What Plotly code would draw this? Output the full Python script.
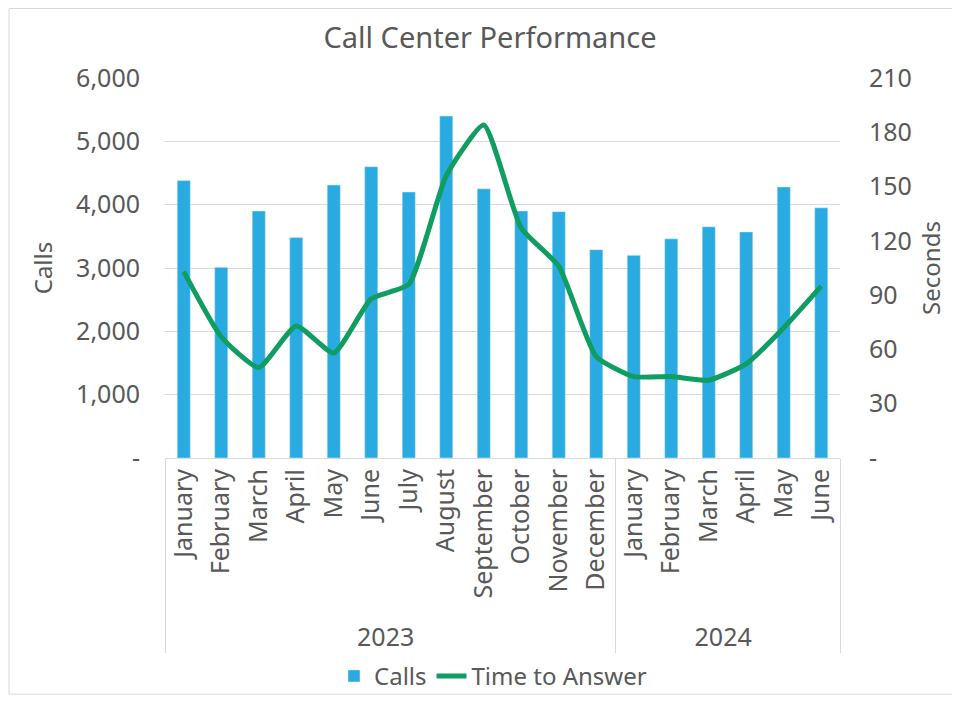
import plotly.graph_objects as go

years = ["2023"] * 12 + ["2024"] * 6
months = ["January", "February", "March", "April", "May", "June", "July",
          "August", "September", "October", "November", "December",
          "January", "February", "March", "April", "May", "June"]
calls = [4380, 3010, 3900, 3480, 4310, 4600, 4200, 5400, 4250, 3900, 3890, 3290,
         3200, 3460, 3650, 3570, 4280, 3950]
time_to_answer = [103, 67, 50, 73, 58, 88, 96, 156, 184, 127, 106, 56,
                  45, 45, 43, 52, 72, 95]

calls_ticks = [0, 1000, 2000, 3000, 4000, 5000, 6000]
calls_labels = ["-", "1,000", "2,000", "3,000", "4,000", "5,000", "6,000"]
sec_ticks = [0, 30, 60, 90, 120, 150, 180, 210]
sec_labels = ["-", "30", "60", "90", "120", "150", "180", "210"]

grey = "#595959"
font_family = "Noto Sans, sans-serif"

fig = go.Figure()

fig.add_trace(go.Bar(
    x=[years, months], y=calls,
    name="Calls",
    marker=dict(color="#29abe2"),
    width=0.35,
))

fig.add_trace(go.Scatter(
    x=[years, months], y=time_to_answer,
    mode="lines", name="Time to Answer",
    line=dict(color="#0f9d61", width=5, shape="spline", smoothing=0.5),
    yaxis="y2",
))

# page body adds an 8px offset, so margins are shifted to keep the plot in place
fig.update_layout(
    width=960, height=702,
    paper_bgcolor="white", plot_bgcolor="white",
    font=dict(family=font_family, color=grey, size=23),
    title=dict(text="Call Center Performance", x=(490 - 8) / 960, xanchor="center",
               y=1 - (38 - 8) / 702, yanchor="middle", font=dict(size=29, color=grey)),
    margin=dict(l=157, r=128, t=70, b=249),
    showlegend=True,
    legend=dict(orientation="h", x=(493 - 165) / 675, xanchor="center",
                y=(461 - 681) / 383, yanchor="middle",
                bgcolor="rgba(0,0,0,0)",
                font=dict(size=24, color=grey)),
    xaxis=dict(
        type="multicategory",
        tickangle=-90,
        showgrid=False,
        showline=True, linecolor="#d9d9d9", linewidth=1,
        showdividers=True, dividercolor="#d9d9d9", dividerwidth=1,
        tickfont=dict(size=25, color=grey),
        ticks="",
    ),
    yaxis=dict(
        title=dict(text="Calls", font=dict(size=24, color=grey), standoff=16),
        range=[0, 6000],
        tickvals=calls_ticks, ticktext=calls_labels,
        showgrid=True, gridcolor="#d9d9d9", gridwidth=1,
        zeroline=False, showline=False,
        tickfont=dict(size=25, color=grey),
        ticklabelstandoff=24,
    ),
    yaxis2=dict(
        title=dict(text="Seconds", font=dict(size=24, color=grey), standoff=12),
        overlaying="y", side="right",
        range=[0, 210],
        tickvals=sec_ticks, ticktext=sec_labels,
        showgrid=False, zeroline=False, showline=False,
        tickfont=dict(size=25, color=grey),
        ticklabelstandoff=28,
    ),
    bargap=0.65,
)

# outer chart border
fig.add_shape(type="rect", xref="paper", yref="paper",
              x0=(9 - 165) / 675, x1=(957 - 165) / 675,
              y0=(461 - 699) / 383, y1=(461 - 8) / 383,
              line=dict(color="#d9d9d9", width=1), fillcolor="rgba(0,0,0,0)",
              layer="below")

fig.write_html("out.html")
